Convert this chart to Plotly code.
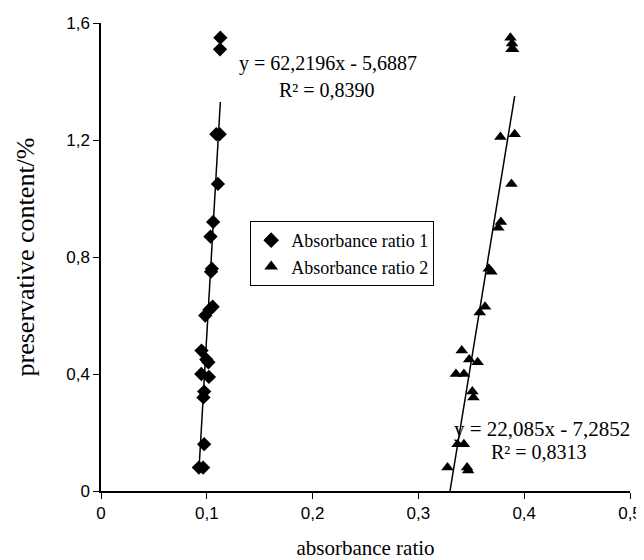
import plotly.graph_objects as go

# ---- data ----
ratio1_x = [0.1128, 0.1125, 0.1122, 0.1090, 0.1105, 0.1060, 0.1035, 0.1048, 0.1040,
            0.1055, 0.1025, 0.0985, 0.0950, 0.0995, 0.1015, 0.0948, 0.1020,
            0.0975, 0.0968, 0.0975, 0.0925, 0.0965]
ratio1_y = [1.55, 1.51, 1.22, 1.22, 1.05, 0.92, 0.87, 0.76, 0.75,
            0.63, 0.62, 0.60, 0.48, 0.45, 0.44, 0.40, 0.39,
            0.34, 0.32, 0.16, 0.08, 0.08]

ratio2_x = [0.3870, 0.3885, 0.3880, 0.3895, 0.3910, 0.3775, 0.3880, 0.3780, 0.3755,
            0.3665, 0.3690, 0.3630, 0.3580, 0.3410, 0.3480, 0.3560, 0.3355, 0.3430,
            0.3510, 0.3520, 0.3370, 0.3430, 0.3275, 0.3460, 0.3470]
ratio2_y = [1.55, 1.53, 1.51, 1.51, 1.22, 1.21, 1.05, 0.92, 0.90,
            0.76, 0.75, 0.63, 0.61, 0.48, 0.45, 0.44, 0.40, 0.40,
            0.34, 0.32, 0.16, 0.16, 0.08, 0.08, 0.07]

trend1 = (62.2196, -5.6887)
trend2 = (22.085, -7.2852)
eq1_text = ["y = 62,2196x - 5,6887", "R² = 0,8390"]
eq2_text = ["y = 22,085x - 7,2852", "R² = 0,8313"]

x_ticks = [0, 0.1, 0.2, 0.3, 0.4, 0.5]
x_ticklabels = ["0", "0,1", "0,2", "0,3", "0,4", "0,5"]
y_ticks = [0, 0.4, 0.8, 1.2, 1.6]
y_ticklabels = ["0", "0,4", "0,8", "1,2", "1,6"]

series_names = ["Absorbance ratio 1", "Absorbance ratio 2"]

SERIF = "Liberation Serif, Times New Roman, serif"
TICKF = "Liberation Sans Narrow, Liberation Sans, Arial, sans-serif"

fig = go.Figure()

fig.add_trace(go.Scatter(
    x=ratio1_x, y=ratio1_y, mode="markers", name=series_names[0],
    marker=dict(symbol="diamond", size=11, color="black"),
))
fig.add_trace(go.Scatter(
    x=ratio2_x, y=ratio2_y, mode="markers", name=series_names[1],
    marker=dict(symbol="triangle-up", size=11, color="black"),
))

# linear trendlines over each series' x-range
for xs, (a, b) in ((ratio1_x, trend1), (ratio2_x, trend2)):
    x0, x1 = min(xs), max(xs)
    fig.add_trace(go.Scatter(
        x=[x0, x1], y=[a * x0 + b, a * x1 + b], mode="lines",
        line=dict(color="black", width=1.5), showlegend=False, hoverinfo="skip",
    ))

# the page body adds an 8px offset, so the figure is sized 8px smaller
fig.update_layout(
    width=636, height=552,
    margin=dict(l=93, r=14, t=15, b=69),
    paper_bgcolor="white", plot_bgcolor="white",
    showlegend=True,
    legend=dict(
        x=0.282, y=0.577, xanchor="left", yanchor="top",
        bgcolor="white", bordercolor="black", borderwidth=1,
        font=dict(family=SERIF, size=18, color="black"),
        itemsizing="constant", itemwidth=30, tracegroupgap=0,
    ),
    font=dict(family=SERIF, color="black"),
)

fig.update_xaxes(
    range=[0, 0.5], tickvals=x_ticks, ticktext=x_ticklabels, automargin=False,
    showgrid=False, zeroline=False, showline=True, linecolor="black", linewidth=1.5,
    ticks="outside", ticklen=6, tickcolor="black",
    tickfont=dict(family=TICKF, size=17, color="black"),
    title=dict(text="absorbance ratio", font=dict(family=SERIF, size=21, color="black"), standoff=21),
)
fig.update_yaxes(
    range=[0, 1.6], tickvals=y_ticks, ticktext=y_ticklabels, automargin=False,
    showgrid=False, zeroline=False, showline=True, linecolor="black", linewidth=1.5,
    ticks="outside", ticklen=6, tickcolor="black",
    tickfont=dict(family=TICKF, size=17, color="black"),
    title=dict(text="preservative content/%", font=dict(family=SERIF, size=26, color="black"), standoff=24),
)

eq_font = dict(family=SERIF, size=20, color="black")
fig.add_annotation(x=0.2146, y=1.463, xref="x", yref="y", text=eq1_text[0],
                   showarrow=False, font=eq_font, xanchor="center")
fig.add_annotation(x=0.2136, y=1.371, xref="x", yref="y", text=eq1_text[1],
                   showarrow=False, font=eq_font, xanchor="center")
fig.add_annotation(x=0.417, y=0.212, xref="x", yref="y", text=eq2_text[0],
                   showarrow=False, font=dict(family=SERIF, size=21, color="black"), xanchor="center")
fig.add_annotation(x=0.414, y=0.133, xref="x", yref="y", text=eq2_text[1],
                   showarrow=False, font=eq_font, xanchor="center")

fig.write_html("out.html")
